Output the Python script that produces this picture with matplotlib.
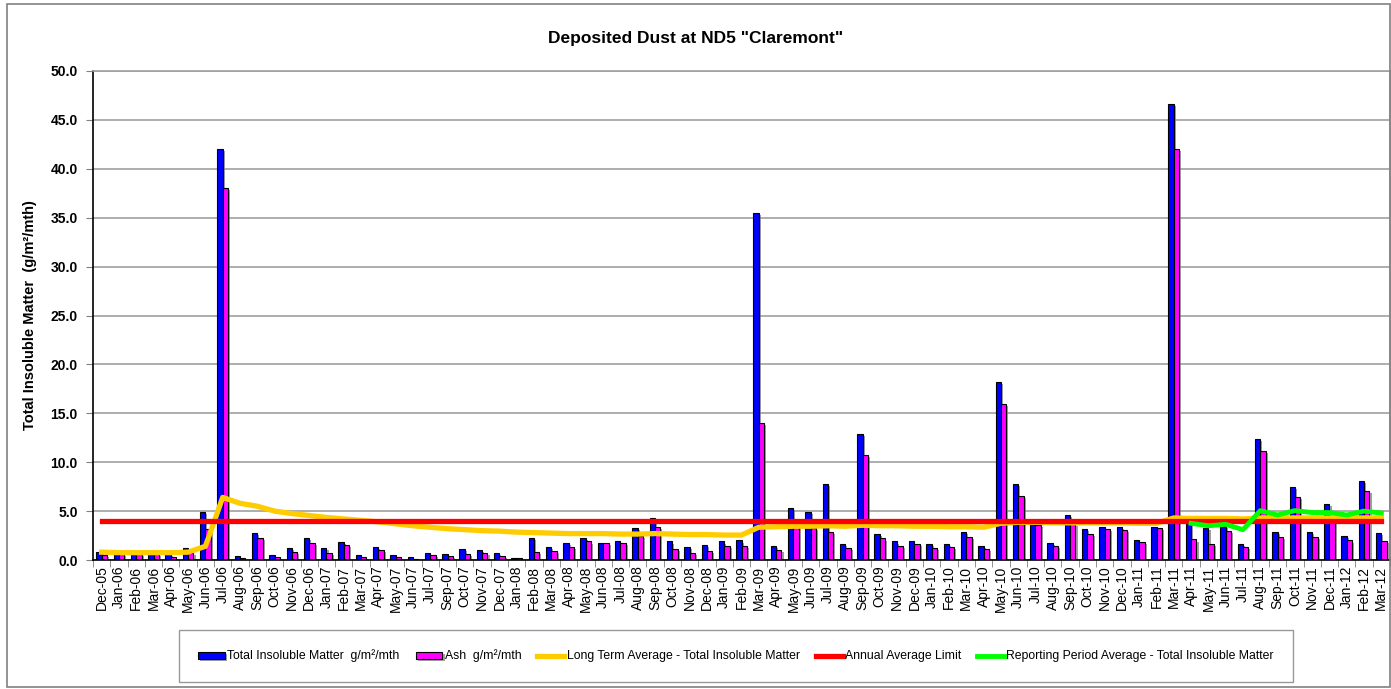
import numpy as np
import matplotlib
matplotlib.use("Agg")
import matplotlib.pyplot as plt
import matplotlib.patheffects as pe
from matplotlib.patches import Rectangle

months = ["Dec-05", "Jan-06", "Feb-06", "Mar-06", "Apr-06", "May-06", "Jun-06", "Jul-06",
          "Aug-06", "Sep-06", "Oct-06", "Nov-06", "Dec-06", "Jan-07", "Feb-07", "Mar-07",
          "Apr-07", "May-07", "Jun-07", "Jul-07", "Sep-07", "Oct-07", "Nov-07", "Dec-07",
          "Jan-08", "Feb-08", "Mar-08", "Apr-08", "May-08", "Jun-08", "Jul-08", "Aug-08",
          "Sep-08", "Oct-08", "Nov-08", "Dec-08", "Jan-09", "Feb-09", "Mar-09", "Apr-09",
          "May-09", "Jun-09", "Jul-09", "Aug-09", "Sep-09", "Oct-09", "Nov-09", "Dec-09",
          "Jan-10", "Feb-10", "Mar-10", "Apr-10", "May-10", "Jun-10", "Jul-10", "Aug-10",
          "Sep-10", "Oct-10", "Nov-10", "Dec-10", "Jan-11", "Feb-11", "Mar-11", "Apr-11",
          "May-11", "Jun-11", "Jul-11", "Aug-11", "Sep-11", "Oct-11", "Nov-11", "Dec-11",
          "Jan-12", "Feb-12", "Mar-12"]

total_insoluble = [0.8, 0.6, 0.6, 0.6, 0.6, 1.2, 4.9, 42.0,
                   0.4, 2.8, 0.5, 1.2, 2.3, 1.2, 1.8, 0.5,
                   1.3, 0.5, 0.3, 0.7, 0.6, 1.1, 1.0, 0.7,
                   0.2, 2.3, 1.3, 1.7, 2.3, 1.7, 1.9, 3.3,
                   4.25, 1.9, 1.3, 1.5, 1.9, 2.0, 35.5, 1.4,
                   5.3, 4.9, 7.8, 1.6, 12.85, 2.7, 1.9, 1.9,
                   1.6, 1.6, 2.9, 1.4, 18.2, 7.75, 4.1, 1.7,
                   4.65, 3.15, 3.4, 3.4, 2.05, 3.4, 46.6, 4.3,
                   3.3, 3.5, 1.6, 12.35, 2.85, 7.5, 2.85, 5.7,
                   2.45, 8.1, 2.75]

ash = [0.5, 0.6, 0.6, 0.6, 0.3, 0.7, 3.2, 38.0,
       0.2, 2.3, 0.3, 0.8, 1.7, 0.7, 1.5, 0.3,
       1.0, 0.3, 0.1, 0.55, 0.4, 0.6, 0.7, 0.4,
       0.2, 0.8, 0.9, 1.3, 1.9, 1.7, 1.7, 2.5,
       3.4, 1.1, 0.7, 0.9, 1.45, 1.4, 14.05, 1.0,
       3.5, 3.3, 2.9, 1.2, 10.75, 2.2, 1.4, 1.6,
       1.2, 1.3, 2.4, 1.1, 16.0, 6.55, 3.6, 1.4,
       3.7, 2.65, 3.15, 3.05, 1.8, 3.3, 42.0, 2.1,
       1.6, 3.0, 1.3, 11.15, 2.35, 6.45, 2.35, 4.0,
       2.0, 7.05, 1.95]

long_term_avg = [0.8, 0.75, 0.75, 0.75, 0.75, 0.8, 1.4, 6.4,
                 5.8, 5.5, 5.0, 4.75, 4.55, 4.35, 4.2, 4.05,
                 3.9, 3.7, 3.5, 3.35, 3.2, 3.1, 3.0, 2.95,
                 2.85, 2.8, 2.75, 2.7, 2.7, 2.7, 2.65, 2.65,
                 2.7, 2.65, 2.6, 2.6, 2.55, 2.55, 3.35, 3.4,
                 3.45, 3.45, 3.5, 3.45, 3.55, 3.5, 3.5, 3.45,
                 3.45, 3.4, 3.4, 3.35, 3.75, 3.85, 3.85, 3.8,
                 3.8, 3.8, 3.8, 3.8, 3.75, 3.75, 4.3, 4.25,
                 4.25, 4.25, 4.2, 4.3, 4.3, 4.3, 4.3, 4.3,
                 4.3, 4.3, 4.3]

annual_limit = [4.0] * len(months)

reporting_months = ["Apr-11", "May-11", "Jun-11", "Jul-11", "Aug-11", "Sep-11",
                    "Oct-11", "Nov-11", "Dec-11", "Jan-12", "Feb-12", "Mar-12"]
reporting_avg = [3.75, 3.5, 3.65, 3.1, 5.05, 4.6, 5.05, 4.85, 4.85, 4.6, 5.0, 4.8]

plt.rcParams['font.family'] = ['Liberation Sans', 'DejaVu Sans']

fig = plt.figure(figsize=(13.91, 6.89), dpi=100)
fig.patches.append(Rectangle((7 / 1391, 2 / 689), 1383 / 1391, 683 / 689,
                             transform=fig.transFigure, fill=False,
                             edgecolor='#808080', linewidth=1.2))
ax = fig.add_axes([93 / 1391, 1 - 560 / 689, 1297 / 1391, 489 / 689])

x = np.arange(len(months))
w = 0.31
shadow = [pe.SimplePatchShadow(offset=(1.5, -1.5), shadow_rgbFace='#777777', alpha=0.7), pe.Normal()]
b1 = ax.bar(x - w / 2, total_insoluble, w, color='#0000FF', edgecolor='black', linewidth=0.8,
            label='Total Insoluble Matter  g/m\u00b2/mth', zorder=2)
b2 = ax.bar(x + w / 2, ash, w, color='#FF00FF', edgecolor='black', linewidth=0.8,
            label='Ash  g/m\u00b2/mth', zorder=2)
for bar in list(b1) + list(b2):
    bar.set_path_effects(shadow)

l1, = ax.plot(x, long_term_avg, color='#FFCC00', linewidth=3.8,
              label='Long Term Average - Total Insoluble Matter', zorder=3)
l2, = ax.plot(x, annual_limit, color='#FF0000', linewidth=3.8,
              label='Annual Average Limit', zorder=4)
rx = [months.index(m) for m in reporting_months]
l3, = ax.plot(rx, reporting_avg, color='#00FF00', linewidth=3.5,
              label='Reporting Period Average - Total Insoluble Matter', zorder=5)

ax.set_xlim(-0.5, len(months) - 0.5)
ax.set_ylim(0, 50)
ax.set_yticks(np.arange(0, 50.1, 5))
ax.set_yticklabels([f"{v:.1f}" for v in np.arange(0, 50.1, 5)], fontsize=10, fontweight='bold')
ax.yaxis.grid(True, color='#A0A0A0', linewidth=1.2, zorder=0)
ax.set_axisbelow(True)

ax.set_xticks(x)
ax.set_xticklabels(months, rotation=90, fontsize=10)
ax.set_xticks(np.arange(-0.5, len(months), 1), minor=True)
ax.tick_params(axis='x', which='major', length=0, pad=4)
ax.tick_params(axis='x', which='minor', length=5, color='#808080')
ax.tick_params(axis='y', length=5, color='#808080', pad=6)

for side in ['top', 'right']:
    ax.spines[side].set_color('#A0A0A0')
    ax.spines[side].set_linewidth(1.2)
ax.spines['left'].set_linewidth(1.2)
ax.spines['bottom'].set_linewidth(1.2)

ax.set_ylabel('Total Insoluble Matter  (g/m\u00b2/mth)', fontsize=10.5, fontweight='bold', labelpad=10)
fig.text(0.5, 1 - 38 / 689, 'Deposited Dust at ND5 "Claremont"', ha='center', va='center',
         fontsize=12.5, fontweight='bold')

leg = fig.legend(handles=[b1, b2, l1, l2, l3], loc='center',
                 bbox_to_anchor=(736 / 1391, 1 - 656 / 689), ncol=5,
                 fontsize=8.8, frameon=True, fancybox=False, edgecolor='#808080',
                 handlelength=2.2, handleheight=0.5, handletextpad=0.2, columnspacing=1.3,
                 borderpad=1.6)
leg.get_frame().set_linewidth(1.0)

fig.savefig('out.png', dpi=100)
